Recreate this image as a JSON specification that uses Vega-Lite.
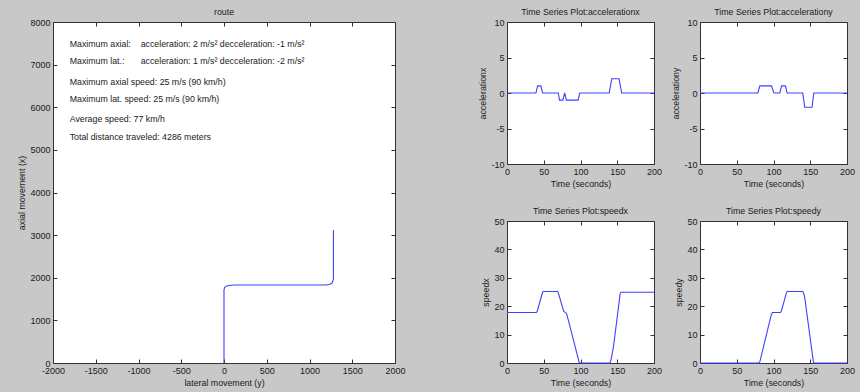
{
  "$schema": "https://vega.github.io/schema/vega-lite/v6.json",
  "padding": {"left": 17, "top": 7, "right": 4, "bottom": 4},
  "datasets": {
    "route": [
      {"i": 0, "lat": 0, "ax": 0},
      {"i": 1, "lat": 0, "ax": 1714},
      {"i": 2, "lat": 8, "ax": 1775},
      {"i": 3, "lat": 30, "ax": 1808},
      {"i": 4, "lat": 80, "ax": 1824},
      {"i": 5, "lat": 120, "ax": 1830},
      {"i": 6, "lat": 1189, "ax": 1831},
      {"i": 7, "lat": 1235, "ax": 1842},
      {"i": 8, "lat": 1265, "ax": 1880},
      {"i": 9, "lat": 1278, "ax": 1948},
      {"i": 10, "lat": 1280, "ax": 2000},
      {"i": 11, "lat": 1280, "ax": 3122}
    ],
    "notes": [
      {"lat": -1805, "ax": 7488, "label": "Maximum axial:"},
      {"lat": -975, "ax": 7488, "label": "acceleration: 2 m/s²  decceleration: -1 m/s²"},
      {"lat": -1805, "ax": 7096, "label": "Maximum lat.:"},
      {"lat": -975, "ax": 7096, "label": "acceleration: 1 m/s² decceleration: -2 m/s²"},
      {"lat": -1805, "ax": 6603, "label": "Maximum axial speed: 25 m/s (90 km/h)"},
      {"lat": -1805, "ax": 6190, "label": "Maximum lat. speed: 25 m/s (90 km/h)"},
      {"lat": -1805, "ax": 5720, "label": "Average speed: 77 km/h"},
      {"lat": -1805, "ax": 5312, "label": "Total distance traveled: 4286 meters"}
    ],
    "accx": [
      {"t": 0, "v": 0}, {"t": 39.4, "v": 0}, {"t": 41.6, "v": 1}, {"t": 46, "v": 1}, {"t": 48.4, "v": 0},
      {"t": 69.7, "v": 0}, {"t": 71.5, "v": -1}, {"t": 76, "v": -1}, {"t": 78.5, "v": 0}, {"t": 80.8, "v": -1},
      {"t": 96.8, "v": -1}, {"t": 99, "v": 0}, {"t": 139, "v": 0}, {"t": 142.5, "v": 2}, {"t": 152.5, "v": 2},
      {"t": 156, "v": 0}, {"t": 200, "v": 0}
    ],
    "accy": [
      {"t": 0, "v": 0}, {"t": 78.7, "v": 0}, {"t": 81.4, "v": 1}, {"t": 97.3, "v": 1}, {"t": 100.5, "v": 0},
      {"t": 108.6, "v": 0}, {"t": 110.9, "v": 1}, {"t": 116.3, "v": 1}, {"t": 118.5, "v": 0},
      {"t": 139.8, "v": 0}, {"t": 142.5, "v": -2}, {"t": 152.5, "v": -2}, {"t": 154.8, "v": 0}, {"t": 200, "v": 0}
    ],
    "spdx": [
      {"t": 0, "v": 17.8}, {"t": 40, "v": 17.8}, {"t": 41.5, "v": 18.5}, {"t": 48.5, "v": 25}, {"t": 50, "v": 25.2},
      {"t": 68.8, "v": 25.2}, {"t": 70, "v": 24.5}, {"t": 77, "v": 18.3}, {"t": 78.7, "v": 17.9}, {"t": 80.5, "v": 17.6},
      {"t": 81.5, "v": 17}, {"t": 98.2, "v": 0.2}, {"t": 99, "v": 0}, {"t": 140, "v": 0}, {"t": 141, "v": 0.5},
      {"t": 143, "v": 3}, {"t": 145, "v": 6}, {"t": 154, "v": 24.5}, {"t": 155, "v": 24.9}, {"t": 200, "v": 24.9}
    ],
    "spdy": [
      {"t": 0, "v": 0}, {"t": 80, "v": 0}, {"t": 81.5, "v": 0.5}, {"t": 97, "v": 17}, {"t": 98.5, "v": 17.8},
      {"t": 109.5, "v": 17.8}, {"t": 111, "v": 18.5}, {"t": 117.5, "v": 24.7}, {"t": 118.6, "v": 25.2},
      {"t": 139.8, "v": 25.2}, {"t": 141, "v": 24.5}, {"t": 142.5, "v": 23}, {"t": 154.2, "v": 0.5},
      {"t": 155, "v": 0}, {"t": 200, "v": 0}
    ]
  },
  "spacing": 72,
  "hconcat": [
    {
      "width": 342,
      "height": 341,
      "title": "route",
      "resolve": {"axis": {"x": "independent", "y": "independent"}},
      "layer": [
        {
          "data": {"name": "route"},
          "mark": {"type": "line", "color": "#4040ff", "strokeWidth": 1.1},
          "encoding": {
            "x": {"field": "lat", "type": "quantitative", "scale": {"domain": [-2000, 2000], "nice": false, "zero": false},
                  "axis": {"orient": "bottom", "values": [-2000, -1500, -1000, -500, 0, 500, 1000, 1500, 2000], "labelExpr": "'' + datum.value", "title": "lateral movement (y)"}},
            "y": {"field": "ax", "type": "quantitative", "scale": {"domain": [0, 8000], "nice": false},
                  "axis": {"orient": "left", "values": [0, 1000, 2000, 3000, 4000, 5000, 6000, 7000, 8000], "labelExpr": "'' + datum.value", "title": "axial movement (x)"}},
            "order": {"field": "i", "type": "quantitative"}
          }
        },
        {
          "data": {"name": "notes"},
          "mark": {"type": "text", "align": "left", "baseline": "middle", "fontSize": 8.8, "color": "#1a1a1a"},
          "encoding": {
            "x": {"field": "lat", "type": "quantitative", "axis": null},
            "y": {"field": "ax", "type": "quantitative", "axis": null},
            "text": {"field": "label"}
          }
        },
        {
          "data": {"name": "route"},
          "mark": {"type": "line", "opacity": 0},
          "encoding": {
            "x": {"field": "lat", "type": "quantitative",
                  "axis": {"orient": "top", "labels": false, "title": null, "values": [-2000, -1500, -1000, -500, 0, 500, 1000, 1500, 2000]}},
            "y": {"field": "ax", "type": "quantitative",
                  "axis": {"orient": "right", "labels": false, "title": null, "values": [0, 1000, 2000, 3000, 4000, 5000, 6000, 7000, 8000]}},
            "order": {"field": "i", "type": "quantitative"}
          }
        }
      ]
    },
    {
      "columns": 2,
      "spacing": {"row": 57, "column": 46},
      "bounds": "flush",
      "concat": [
        {
          "width": 147, "height": 142,
          "title": "Time Series Plot:accelerationx",
          "data": {"name": "accx"},
          "resolve": {"axis": {"x": "independent", "y": "independent"}},
          "layer": [
            {
              "mark": {"type": "line", "color": "#4040ff", "strokeWidth": 1.1},
              "encoding": {
                "x": {"field": "t", "type": "quantitative", "scale": {"domain": [0, 200], "nice": false},
                      "axis": {"orient": "bottom", "values": [0, 50, 100, 150, 200], "labelExpr": "'' + datum.value", "title": "Time (seconds)"}},
                "y": {"field": "v", "type": "quantitative", "scale": {"domain": [-10, 10], "nice": false, "zero": false},
                      "axis": {"orient": "left", "values": [-10, -5, 0, 5, 10], "labelExpr": "'' + datum.value", "title": "accelerationx"}}
              }
            },
            {
              "mark": {"type": "line", "opacity": 0},
              "encoding": {
                "x": {"field": "t", "type": "quantitative", "axis": {"orient": "top", "labels": false, "title": null, "values": [0, 50, 100, 150, 200]}},
                "y": {"field": "v", "type": "quantitative", "axis": {"orient": "right", "labels": false, "title": null, "values": [-10, -5, 0, 5, 10]}}
              }
            }
          ]
        },
        {
          "width": 147, "height": 142,
          "title": "Time Series Plot:accelerationy",
          "data": {"name": "accy"},
          "resolve": {"axis": {"x": "independent", "y": "independent"}},
          "layer": [
            {
              "mark": {"type": "line", "color": "#4040ff", "strokeWidth": 1.1},
              "encoding": {
                "x": {"field": "t", "type": "quantitative", "scale": {"domain": [0, 200], "nice": false},
                      "axis": {"orient": "bottom", "values": [0, 50, 100, 150, 200], "labelExpr": "'' + datum.value", "title": "Time (seconds)"}},
                "y": {"field": "v", "type": "quantitative", "scale": {"domain": [-10, 10], "nice": false, "zero": false},
                      "axis": {"orient": "left", "values": [-10, -5, 0, 5, 10], "labelExpr": "'' + datum.value", "title": "accelerationy"}}
              }
            },
            {
              "mark": {"type": "line", "opacity": 0},
              "encoding": {
                "x": {"field": "t", "type": "quantitative", "axis": {"orient": "top", "labels": false, "title": null, "values": [0, 50, 100, 150, 200]}},
                "y": {"field": "v", "type": "quantitative", "axis": {"orient": "right", "labels": false, "title": null, "values": [-10, -5, 0, 5, 10]}}
              }
            }
          ]
        },
        {
          "width": 147, "height": 142,
          "title": "Time Series Plot:speedx",
          "data": {"name": "spdx"},
          "resolve": {"axis": {"x": "independent", "y": "independent"}},
          "layer": [
            {
              "mark": {"type": "line", "color": "#4040ff", "strokeWidth": 1.1},
              "encoding": {
                "x": {"field": "t", "type": "quantitative", "scale": {"domain": [0, 200], "nice": false},
                      "axis": {"orient": "bottom", "values": [0, 50, 100, 150, 200], "labelExpr": "'' + datum.value", "title": "Time (seconds)"}},
                "y": {"field": "v", "type": "quantitative", "scale": {"domain": [0, 50], "nice": false},
                      "axis": {"orient": "left", "values": [0, 10, 20, 30, 40, 50], "labelExpr": "'' + datum.value", "title": "speedx"}}
              }
            },
            {
              "mark": {"type": "line", "opacity": 0},
              "encoding": {
                "x": {"field": "t", "type": "quantitative", "axis": {"orient": "top", "labels": false, "title": null, "values": [0, 50, 100, 150, 200]}},
                "y": {"field": "v", "type": "quantitative", "axis": {"orient": "right", "labels": false, "title": null, "values": [0, 10, 20, 30, 40, 50]}}
              }
            }
          ]
        },
        {
          "width": 147, "height": 142,
          "title": "Time Series Plot:speedy",
          "data": {"name": "spdy"},
          "resolve": {"axis": {"x": "independent", "y": "independent"}},
          "layer": [
            {
              "mark": {"type": "line", "color": "#4040ff", "strokeWidth": 1.1},
              "encoding": {
                "x": {"field": "t", "type": "quantitative", "scale": {"domain": [0, 200], "nice": false},
                      "axis": {"orient": "bottom", "values": [0, 50, 100, 150, 200], "labelExpr": "'' + datum.value", "title": "Time (seconds)"}},
                "y": {"field": "v", "type": "quantitative", "scale": {"domain": [0, 50], "nice": false},
                      "axis": {"orient": "left", "values": [0, 10, 20, 30, 40, 50], "labelExpr": "'' + datum.value", "title": "speedy"}}
              }
            },
            {
              "mark": {"type": "line", "opacity": 0},
              "encoding": {
                "x": {"field": "t", "type": "quantitative", "axis": {"orient": "top", "labels": false, "title": null, "values": [0, 50, 100, 150, 200]}},
                "y": {"field": "v", "type": "quantitative", "axis": {"orient": "right", "labels": false, "title": null, "values": [0, 10, 20, 30, 40, 50]}}
              }
            }
          ]
        }
      ]
    }
  ],
  "config": {
    "background": "#c8c8c8",
    "font": "Liberation Sans",
    "view": {"fill": "white", "stroke": "#333333", "strokeWidth": 1},
    "axis": {
      "domain": false,
      "grid": false,
      "ticks": true,
      "tickSize": -4,
      "tickColor": "#333333",
      "labelFontSize": 9,
      "labelColor": "#1a1a1a",
      "labelPadding": 7,
      "labelFlush": false,
      "labelOverlap": false,
      "titleFontSize": 8.8,
      "titleFontWeight": "normal",
      "titleColor": "#1a1a1a",
      "titlePadding": 3
    },
    "title": {"fontSize": 8.8, "fontWeight": "normal", "color": "#1a1a1a", "offset": 1}
  }
}
